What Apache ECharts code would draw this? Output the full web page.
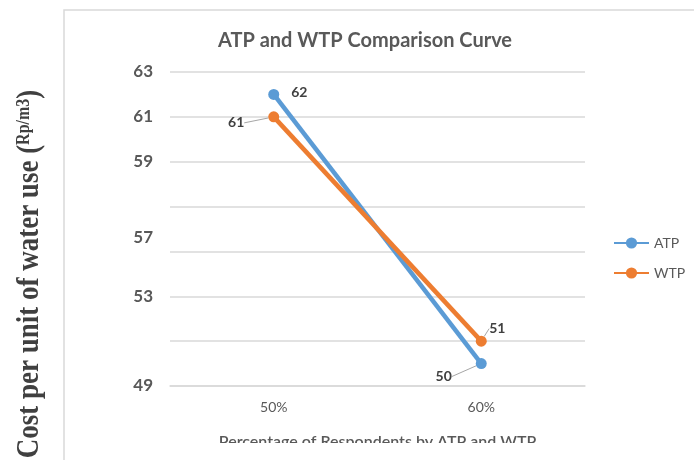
<!DOCTYPE html>
<html>
<head>
<meta charset="utf-8">
<script src="https://cdn.jsdelivr.net/npm/echarts@6/dist/echarts.min.js"></script>
<style>
  html, body { margin: 0; padding: 0; background: #ffffff; }
  #chart { width: 694px; height: 460px; }
</style>
</head>
<body>
<div id="chart"></div>
<script>
// Categories on the horizontal axis
const categories = ['50%', '60%'];
// Cost per unit of water use for each group
const atpValues = [62, 50];
const wtpValues = [61, 51];
// Vertical axis: gridline values and the text printed beside them
const yTickValues = [49, 51, 53, 55, 57, 59, 61, 63];
const yTickLabels = ['49', '', '53', '57', '', '59', '61', '63'];

const GREY = '#595959';
const UI_FONT = 'Lato, "Open Sans", sans-serif';
const SERIF = '"Liberation Serif", "DejaVu Serif", serif';

const chart = echarts.init(document.getElementById('chart'));

// Offsets of each point label from its marker, per series and point
const labelOffsets = {
  ATP: [{ pos: 'right', dx: 4, dy: -2, line: false }, { pos: 'left', dx: -16, dy: 13, line: true }],
  WTP: [{ pos: 'left', dx: -16, dy: 6, line: true }, { pos: 'top', dx: 16, dy: 8, line: true }]
};

function buildData(name, values) {
  return values.map((v, i) => ({
    value: v,
    label: { position: labelOffsets[name][i].pos },
    labelLine: { show: labelOffsets[name][i].line }
  }));
}

function makeSeries(name, values, color) {
  return {
    name: name,
    type: 'line',
    data: buildData(name, values),
    symbol: 'circle',
    symbolSize: 11,
    lineStyle: { color: color, width: 4.5 },
    itemStyle: { color: color },
    label: {
      show: true,
      color: '#404040',
      fontFamily: UI_FONT,
      fontWeight: 'bold',
      fontSize: 14,
      distance: 8
    },
    labelLine: {
      show: true,
      lineStyle: { color: '#a6a6a6', width: 1 }
    },
    labelLayout: function (p) {
      const o = labelOffsets[name][p.dataIndex];
      return { dx: o.dx, dy: o.dy };
    },
    emphasis: { disabled: true }
  };
}

const option = {
  backgroundColor: '#ffffff',
  animation: false,
  title: {
    text: 'ATP and WTP Comparison Curve',
    left: 360,
    top: 26,
    textAlign: 'center',
    textStyle: { color: GREY, fontFamily: UI_FONT, fontWeight: 'bold', fontSize: 20 }
  },
  legend: {
    orient: 'vertical',
    left: 613,
    top: 236,
    padding: 0,
    itemWidth: 35,
    itemHeight: 14,
    itemGap: 16,
    textStyle: { color: GREY, fontFamily: UI_FONT, fontSize: 14 },
    data: ['ATP', 'WTP']
  },
  grid: { left: 170, right: 109, top: 72, bottom: 74 },
  xAxis: {
    type: 'category',
    data: categories,
    boundaryGap: true,
    axisLine: { show: true, lineStyle: { color: '#d9d9d9', width: 1.5 } },
    axisTick: { show: false },
    axisLabel: { color: GREY, fontFamily: UI_FONT, fontSize: 14, margin: 14 },
    name: 'Percentage of Respondents by ATP and WTP',
    nameLocation: 'middle',
    nameGap: 48,
    nameTextStyle: { color: GREY, fontFamily: UI_FONT, fontSize: 16, fontWeight: 600, verticalAlign: 'top' }
  },
  yAxis: {
    type: 'value',
    min: yTickValues[0],
    max: yTickValues[yTickValues.length - 1],
    interval: 2,
    axisLine: { show: false },
    axisTick: { show: false },
    splitLine: { lineStyle: { color: '#d9d9d9', width: 1.5 } },
    axisLabel: {
      margin: 17,
      formatter: function (v) {
        const i = yTickValues.indexOf(v);
        const t = i >= 0 ? yTickLabels[i] : '';
        // the label beside 55 sits a little higher than its gridline
        return v === 55 ? '{lift|' + t + '}' : '{n|' + t + '}';
      },
      rich: {
        n: { color: GREY, fontFamily: UI_FONT, fontSize: 17, fontWeight: 'bold' },
        lift: { color: GREY, fontFamily: UI_FONT, fontSize: 17, fontWeight: 'bold', padding: [0, 0, 28, 0] }
      }
    }
  },
  series: [
    makeSeries('ATP', atpValues, '#5B9BD5'),
    makeSeries('WTP', wtpValues, '#ED7D31')
  ],
  graphic: [
    {
      type: 'rect',
      shape: { x: 64, y: 10, width: 700, height: 520 },
      style: { fill: 'none', stroke: '#d9d9d9', lineWidth: 1.5 },
      z: 0,
      silent: true
    },
    {
      // the lower part of the chart area is trimmed off
      type: 'rect',
      shape: { x: 100, y: 443, width: 600, height: 30 },
      style: { fill: '#ffffff' },
      z: 100,
      silent: true
    },
    {
      type: 'text',
      x: 27,
      y: 274,
      rotation: Math.PI / 2,
      scaleY: 1.15,
      z: 100,
      style: {
        text: '{m|Cost per unit of water use }{m|(}{s|Rp/m3}{m|)}',
        align: 'center',
        verticalAlign: 'middle',
        rich: {
          m: { fontFamily: SERIF, fontWeight: 'bold', fontSize: 27, fill: '#404040', lineHeight: 32, verticalAlign: 'bottom' },
          s: { fontFamily: SERIF, fontWeight: 'bold', fontSize: 16, fill: '#404040', lineHeight: 18, verticalAlign: 'middle', padding: [0, 0, 4, 0] }
        }
      }
    }
  ]
};

chart.setOption(option);
</script>
</body>
</html>
